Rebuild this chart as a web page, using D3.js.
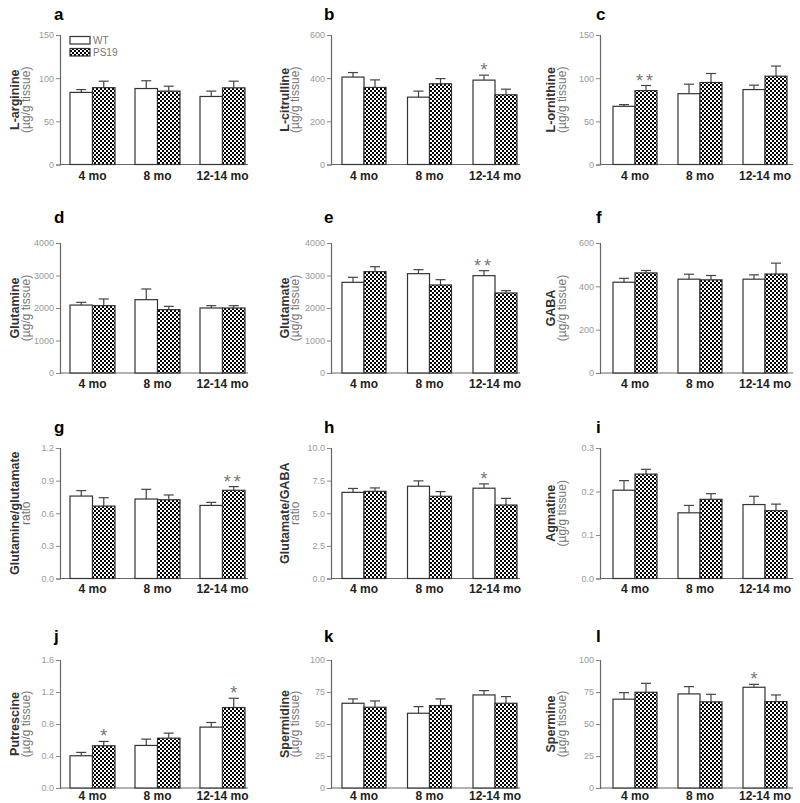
<!DOCTYPE html>
<html><head><meta charset="utf-8">
<script src="https://cdn.jsdelivr.net/npm/d3@7/dist/d3.min.js"></script>
<style>
html,body{margin:0;padding:0;background:#fff;}
svg{display:block;font-family:"Liberation Sans",Arial,sans-serif;}
</style></head>
<body>
<svg id="chart" width="800" height="803"></svg>
<script>
// ---------- DATA ----------
const groups = ["4 mo", "8 mo", "12-14 mo"];
const seriesNames = ["WT", "PS19"];
const panelLetters = ["a","b","c","d","e","f","g","h","i","j","k","l"];
const yLabelMain = ["L-arginine","L-citrulline","L-ornithine","Glutamine","Glutamate","GABA",
  "Glutamine/glutamate","Glutamate/GABA","Agmatine","Putrescine","Spermidine","Spermine"];
const yLabelSub = ["(\u00b5g/g tissue)","(\u00b5g/g tissue)","(\u00b5g/g tissue)","(\u00b5g/g tissue)","(\u00b5g/g tissue)","(\u00b5g/g tissue)",
  "ratio","ratio","(\u00b5g/g tissue)","(\u00b5g/g tissue)","(\u00b5g/g tissue)","(\u00b5g/g tissue)"];
const yTickValues = [
  [0,50,100,150],[0,200,400,600],[0,50,100,150],
  [0,1000,2000,3000,4000],[0,1000,2000,3000,4000],[0,200,400,600],
  [0,0.3,0.6,0.9,1.2],[0,2.5,5,7.5,10],[0,0.1,0.2,0.3],
  [0,0.4,0.8,1.2,1.6],[0,25,50,75,100],[0,25,50,75,100]];
const yTickLabels = [
  ["0","50","100","150"],["0","200","400","600"],["0","50","100","150"],
  ["0","1000","2000","3000","4000"],["0","1000","2000","3000","4000"],["0","200","400","600"],
  ["0.0","0.3","0.6","0.9","1.2"],["0.0","2.5","5.0","7.5","10.0"],["0.0","0.1","0.2","0.3"],
  ["0.0","0.4","0.8","1.2","1.6"],["0","25","50","75","100"],["0","25","50","75","100"]];
const wtMean = [
  [83.5,88,78.8],[405,312,391],[67.4,82,86.8],
  [2090,2256,2000],[2790,3056,2995],[419,433,433],
  [0.758,0.731,0.672],[6.6,7.07,6.92],[0.203,0.151,0.170],
  [0.403,0.532,0.761],[66.2,58.4,72.7],[69.4,73.5,78.7]];
const wtErr = [
  [3.3,9,6.2],[21,28,23],[2,11,5.1],
  [84,329,72],[154,124,154],[18,23,20],
  [0.05,0.089,0.028],[0.3,0.41,0.33],[0.022,0.017,0.019],
  [0.042,0.079,0.058],[3.4,5.2,3.4],[5.1,5.7,2.3]];
const ps19Mean = [
  [89,85,88.8],[357,374,323],[85.6,95,102.3],
  [2072,1949,2000],[3118,2708,2462],[462,430,457],
  [0.666,0.724,0.811],[6.68,6.3,5.63],[0.240,0.182,0.156],
  [0.528,0.623,1.006],[63.1,64.4,66.2],[74.8,67.3,67.5]];
const ps19Err = [
  [7.5,5.7,7.7],[35,24,26],[5.9,10.4,11.7],
  [205,102,72],[154,164,71],[11,20,50],
  [0.077,0.044,0.034],[0.26,0.36,0.51],[0.011,0.013,0.015],
  [0.054,0.063,0.116],[4.9,5.2,5.2],[7,5.9,5.2]];
// significance marks: panel index, group index, series index (0 WT, 1 PS19), text
const starPanel = [1,2,4,6,7,9,9,11];
const starGroup = [2,0,2,2,2,0,2,2];
const starSeries = [0,1,0,1,0,1,1,0];
const starText = ["*","**","**","**","*","*","*","*"];

// ---------- LAYOUT ----------
const cols = [
  {axisX:60, firstBar:70, step:65, barW:22.5, axisEnd:248, letterX:54, lab1X:15, lab2X:26},
  {axisX:331, firstBar:342, step:65.5, barW:22, axisEnd:520, letterX:324, lab1X:285, lab2X:295},
  {axisX:600, firstBar:613, step:65, barW:22, axisEnd:793, letterX:596, lab1X:551, lab2X:562}];
const rows = [
  {top:35, zero:164.5, letterY:20, xlabOff:15.6},
  {top:243, zero:373, letterY:223, xlabOff:14.6},
  {top:448, zero:578.5, letterY:433, xlabOff:14.3},
  {top:660, zero:788, letterY:642, xlabOff:12.2}];

const svg = d3.select("#chart");
const defs = svg.append("defs");
const pat = defs.append("pattern").attr("id","checker").attr("width",4).attr("height",4)
  .attr("patternUnits","userSpaceOnUse");
pat.append("rect").attr("width",4).attr("height",4).attr("fill","#fff");
pat.append("rect").attr("x",0).attr("y",0).attr("width",2).attr("height",2).attr("fill","#000");
pat.append("rect").attr("x",2).attr("y",2).attr("width",2).attr("height",2).attr("fill","#000");

const fills = ["#fff","url(#checker)"];

panelLetters.forEach((letter, p) => {
  const c = cols[p % 3], r = rows[Math.floor(p / 3)];
  const g = svg.append("g");
  const ticks = yTickValues[p];
  const y = d3.scaleLinear().domain([0, ticks[ticks.length-1]]).range([r.zero, r.top]);
  const gap = c.step - 2*c.barW;
  const x = d3.scaleBand().domain(groups)
    .range([c.firstBar - gap/2, c.firstBar - gap/2 + 3*c.step])
    .paddingInner(gap / c.step).paddingOuter(gap / c.step / 2);
  const xs = d3.scaleBand().domain(seriesNames).range([0, x.bandwidth()]);

  // panel letter
  g.append("text").attr("x", c.letterX).attr("y", r.letterY)
    .attr("font-size", 17).attr("font-weight", "bold").attr("fill", "#000").text(letter);

  // y label
  const cy = (r.top + r.zero) / 2;
  g.append("text").attr("transform", `translate(${c.lab1X},${cy}) rotate(-90)`)
    .attr("text-anchor","middle").attr("dominant-baseline","central")
    .attr("font-size", 12.5).attr("font-weight","bold").attr("fill","#333").text(yLabelMain[p]);
  g.append("text").attr("transform", `translate(${c.lab2X},${cy}) rotate(-90)`)
    .attr("text-anchor","middle").attr("dominant-baseline","central")
    .attr("font-size", 12).attr("fill","#777").text(yLabelSub[p]);

  // y axis
  const yAxis = d3.axisLeft(y).tickValues(ticks).tickSize(4).tickPadding(2)
    .tickFormat((d, i) => yTickLabels[p][i]);
  const ya = g.append("g").attr("transform", `translate(${c.axisX},0)`).call(yAxis);
  ya.select(".domain").attr("stroke","#666").attr("stroke-width",1.2);
  ya.selectAll(".tick line").attr("stroke","#888");
  ya.selectAll(".tick text").attr("fill","#999").attr("font-size",9)
    .attr("font-family",'"Liberation Sans",Arial,sans-serif');

  // x axis
  const xAxis = d3.axisBottom(x).tickSize(0).tickPadding(0);
  const xa = g.append("g").attr("transform", `translate(0,${r.zero})`).call(xAxis);
  xa.select(".domain").remove();
  xa.selectAll(".tick text").attr("fill","#222").attr("font-size",12).attr("font-weight","bold")
    .attr("dy", null).attr("y", r.xlabOff)
    .attr("font-family",'"Liberation Sans",Arial,sans-serif');
  g.append("line").attr("x1", c.axisX).attr("x2", c.axisEnd).attr("y1", r.zero).attr("y2", r.zero)
    .attr("stroke","#666").attr("stroke-width",1.2);

  // bars
  const means = [wtMean[p], ps19Mean[p]];
  const errs = [wtErr[p], ps19Err[p]];
  seriesNames.forEach((s, si) => {
    groups.forEach((gr, gi) => {
      const bx = x(gr) + xs(s), bw = xs.bandwidth();
      const m = means[si][gi], e = errs[si][gi];
      const cx = bx + bw/2;
      // error bar (upper only)
      g.append("line").attr("x1",cx).attr("x2",cx).attr("y1",y(m)).attr("y2",y(m+e))
        .attr("stroke","#444").attr("stroke-width",1.2);
      g.append("line").attr("x1",cx-5).attr("x2",cx+5).attr("y1",y(m+e)).attr("y2",y(m+e))
        .attr("stroke","#444").attr("stroke-width",1.2);
      g.append("rect").attr("x",bx).attr("y",y(m)).attr("width",bw).attr("height",y(0)-y(m))
        .attr("fill",fills[si]).attr("stroke","#333").attr("stroke-width",1.2);
    });
  });

  // stars
  starPanel.forEach((sp, k) => {
    if (sp !== p) return;
    const gr = groups[starGroup[k]], s = seriesNames[starSeries[k]];
    const si = starSeries[k], gi = starGroup[k];
    const cx = x(gr) + xs(s) + xs.bandwidth()/2;
    const top = y(means[si][gi] + errs[si][gi]);
    g.append("text").attr("x", cx).attr("y", top + 1).attr("text-anchor","middle")
      .attr("font-size", 18).attr("fill","#777").attr("letter-spacing", starText[k].length>1 ? 3 : 0)
      .text(starText[k]);
  });

  // legend (panel a only)
  if (p === 0) {
    seriesNames.forEach((s, si) => {
      const ly = r.top + 1.5 + si*12;
      g.append("rect").attr("x", c.axisX + 10).attr("y", ly).attr("width", 20).attr("height", 7.5)
        .attr("fill", fills[si]).attr("stroke","#333").attr("stroke-width",1.2);
      g.append("text").attr("x", c.axisX + 33).attr("y", ly + 4).attr("dominant-baseline","central")
        .attr("font-size", 10).attr("fill","#777").text(s);
    });
  }
});
</script>
</body></html>
